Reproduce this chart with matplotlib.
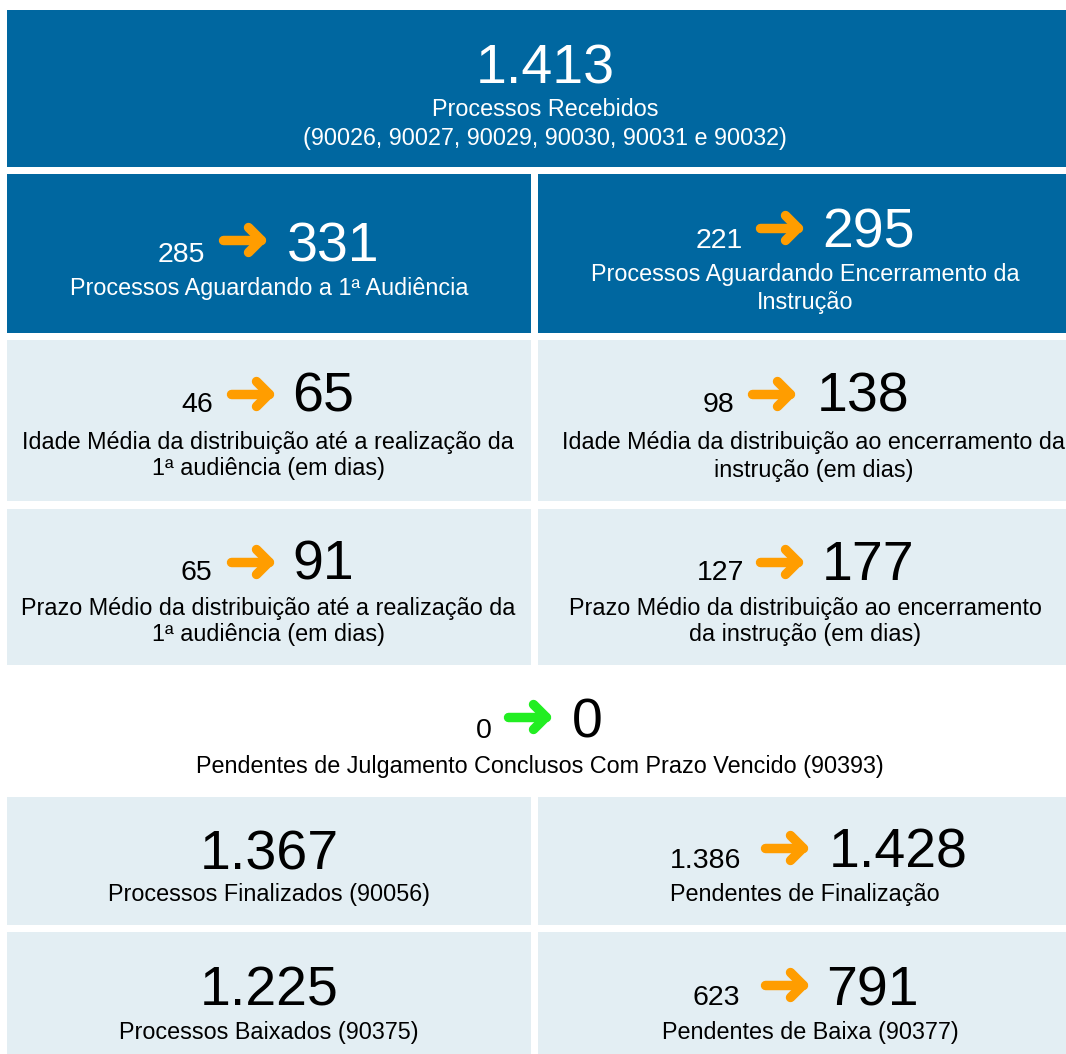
import matplotlib.pyplot as plt
from matplotlib.patches import Rectangle

plt.rcParams['font.family'] = ['Liberation Sans', 'DejaVu Sans']

# data
received_total = 1413
received_label = ["Processos Recebidos", "(90026, 90027, 90029, 90030, 90031 e 90032)"]

pair_before = [285, 221, 46, 98, 65, 127, 0, 1386, 623]
pair_after = [331, 295, 65, 138, 91, 177, 0, 1428, 791]
pair_labels = [
    ["Processos Aguardando a 1ª Audiência"],
    ["Processos Aguardando Encerramento da", "Instrução"],
    ["Idade Média da distribuição até a realização da", "1ª audiência (em dias)"],
    ["Idade Média da distribuição ao encerramento da", "instrução (em dias)"],
    ["Prazo Médio da distribuição até a realização da", "1ª audiência (em dias)"],
    ["Prazo Médio da distribuição ao encerramento", "da instrução (em dias)"],
    ["Pendentes de Julgamento Conclusos Com Prazo Vencido (90393)"],
    ["Pendentes de Finalização"],
    ["Pendentes de Baixa (90377)"],
]
single_values = [1367, 1225]
single_labels = ["Processos Finalizados (90056)", "Processos Baixados (90375)"]

DARK = '#0067a0'
LIGHT = '#e3eef3'
ORANGE = '#ff9d00'
GREEN = '#22ee22'


def fmt(v):
    return f"{v:,}".replace(",", ".")


fig = plt.figure(figsize=(10.66, 10.54), dpi=100)
ax = fig.add_axes([0, 0, 1, 1])
ax.set_xlim(0, 1066)
ax.set_ylim(1054, 0)
ax.axis('off')

# background panels (x, y, w, h, colour)
panels = [
    (7, 10, 1059, 157, DARK),
    (7, 174, 524, 159, DARK), (538, 174, 528, 159, DARK),
    (7, 340, 524, 161, LIGHT), (538, 340, 528, 161, LIGHT),
    (7, 509, 524, 156, LIGHT), (538, 509, 528, 156, LIGHT),
    (7, 797, 524, 128, LIGHT), (538, 797, 528, 128, LIGHT),
    (7, 932, 524, 122, LIGHT), (538, 932, 528, 122, LIGHT),
]
for x, y, w, h, c in panels:
    ax.add_patch(Rectangle((x, y), w, h, color=c, lw=0))

BIG = 40
SMALL = 20.5
LAB = 16.8
DY = 2  # small downward nudge for label lines


def arrow(x0, yc, color):
    w = 48
    half = 12.5
    tip = x0 + w - 5
    ax.plot([x0 + 5, tip], [yc, yc], color=color, lw=6.8, solid_capstyle='round')
    ax.plot([tip - half, tip, tip - half], [yc - half, yc, yc + half], color=color,
            lw=6.8, solid_capstyle='round', solid_joinstyle='round')


# top card
ax.text(545, 83, fmt(received_total), color='white', fontsize=BIG, ha='center', va='baseline')
ax.text(545, 108 + DY, received_label[0], color='white', fontsize=LAB, ha='center', va='center')
ax.text(545, 136 + DY, received_label[1], color='white', fontsize=LAB, ha='center', va='center')

# layout for pair cards: small x, arrow x, big x, baseline, arrow y, label x, label ys, on dark?
pair_layout = [
    (158, 218, 287, 262, 240, 269, [286], True),
    (696, 755, 822, 248, 228, 805, [273, 300], True),
    (181, 226, 292, 412, 394, 268, [440, 467], False),
    (703, 747, 817, 412, 394, 814, [440, 468], False),
    (181, 226, 292, 580, 562, 268, [607, 633], False),
    (697, 755, 822, 580, 562, 805, [607, 633], False),
    (476, 503, 572, 738, 717, 540, [764], False),
    (670, 760, 829, 868, 848, 805, [893], False),
    (692, 760, 826, 1005, 985, 810, [1030], False),
]

for i, (xs, xa, xb, yb, ya, xl, yls, dark) in enumerate(pair_layout):
    tc = 'white' if dark else 'black'
    ac = GREEN if pair_after[i] <= pair_before[i] else ORANGE
    ax.text(xs, yb, fmt(pair_before[i]), color=tc, fontsize=SMALL, ha='left', va='baseline')
    arrow(xa, ya, ac)
    ax.text(xb, yb, fmt(pair_after[i]), color=tc, fontsize=BIG, ha='left', va='baseline')
    for line, yl in zip(pair_labels[i], yls):
        ax.text(xl, yl + DY, line, color=tc, fontsize=LAB, ha='center', va='center')

# single value cards
single_layout = [(269, 870, 893), (269, 1005, 1030)]
for v, lab, (x, yb, yl) in zip(single_values, single_labels, single_layout):
    ax.text(x, yb, fmt(v), color='black', fontsize=BIG, ha='center', va='baseline')
    ax.text(x, yl + DY, lab, color='black', fontsize=LAB, ha='center', va='center')

fig.savefig('out.png', dpi=100)
